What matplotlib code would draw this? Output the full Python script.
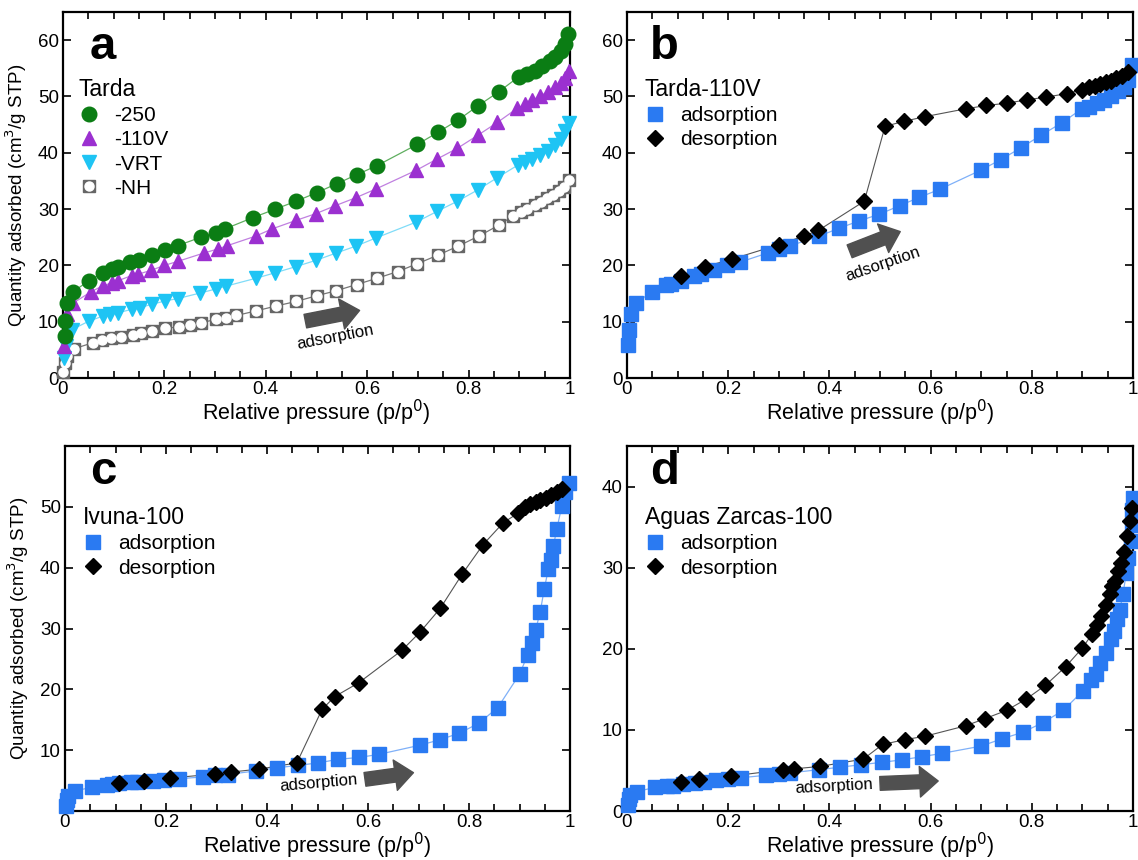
import numpy as np
import matplotlib
matplotlib.use("Agg")
import matplotlib.pyplot as plt
from matplotlib.legend_handler import HandlerTuple
from matplotlib.ticker import MultipleLocator

plt.rcParams["font.family"] = ["Liberation Sans", "DejaVu Sans"]

# ── Panel a: Tarda series (adsorption branch) ─────────────────────
a250_x = [0.004, 0.004, 0.007, 0.02, 0.051, 0.079, 0.097, 0.109, 0.132, 0.149, 0.175, 0.202,
          0.226, 0.272, 0.301, 0.32, 0.375, 0.419, 0.46, 0.50, 0.54, 0.579, 0.619, 0.699,
          0.739, 0.779, 0.818, 0.859, 0.899, 0.915, 0.93, 0.945, 0.96, 0.97, 0.982, 0.99, 0.997]
a250_y = [7.4, 10.1, 13.3, 15.3, 17.3, 18.7, 19.4, 19.8, 20.6, 21.0, 21.9, 22.8,
          23.5, 25.0, 25.8, 26.5, 28.5, 30.0, 31.4, 32.9, 34.5, 36.1, 37.7, 41.5,
          43.6, 45.8, 48.3, 50.8, 53.5, 54.0, 54.6, 55.4, 56.3, 57.0, 58.1, 59.3, 61.1]

a110_x = [0.002, 0.004, 0.007, 0.02, 0.055, 0.079, 0.097, 0.109, 0.136, 0.147, 0.173, 0.2,
          0.226, 0.278, 0.305, 0.324, 0.38, 0.413, 0.46, 0.499, 0.537, 0.577, 0.618, 0.697,
          0.738, 0.778, 0.818, 0.857, 0.896, 0.912, 0.926, 0.941, 0.956, 0.971, 0.982, 0.991, 0.999]
a110_y = [5.7, 8.2, 11.3, 13.3, 15.3, 16.4, 16.9, 17.3, 18.2, 18.4, 19.1, 20.0,
          20.7, 22.2, 22.9, 23.5, 25.2, 26.5, 28.0, 29.2, 30.6, 32.0, 33.6, 36.9,
          38.9, 40.8, 43.1, 45.4, 47.9, 48.6, 49.3, 50.1, 50.8, 51.7, 52.4, 53.3, 54.6]

avrt_x = [0.002, 0.006, 0.018, 0.051, 0.079, 0.092, 0.109, 0.136, 0.151, 0.176, 0.202, 0.226,
          0.271, 0.301, 0.321, 0.38, 0.419, 0.46, 0.499, 0.539, 0.577, 0.618, 0.697, 0.738,
          0.778, 0.818, 0.857, 0.897, 0.912, 0.926, 0.941, 0.956, 0.971, 0.982, 0.991, 0.999]
avrt_y = [3.6, 5.7, 8.6, 10.1, 11.0, 11.3, 11.6, 12.2, 12.5, 13.1, 13.7, 14.1,
          15.1, 15.8, 16.3, 17.7, 18.7, 19.8, 20.9, 22.2, 23.4, 24.9, 27.7, 29.6,
          31.4, 33.4, 35.6, 37.8, 38.3, 38.9, 39.6, 40.3, 41.4, 42.5, 43.8, 45.3]

anh_x = [0.0, 0.004, 0.007, 0.022, 0.06, 0.077, 0.094, 0.114, 0.138, 0.153, 0.176, 0.202,
         0.228, 0.251, 0.272, 0.301, 0.321, 0.342, 0.38, 0.421, 0.46, 0.5, 0.539, 0.579,
         0.619, 0.66, 0.699, 0.739, 0.779, 0.82, 0.859, 0.888, 0.903, 0.915, 0.93, 0.943,
         0.954, 0.967, 0.978, 0.989, 0.999]
anh_y = [1.0, 2.7, 3.9, 5.2, 6.3, 6.7, 7.1, 7.3, 7.7, 8.0, 8.3, 8.8,
         9.1, 9.5, 9.8, 10.4, 10.7, 11.1, 11.9, 12.8, 13.6, 14.6, 15.5, 16.6,
         17.7, 18.9, 20.3, 21.8, 23.4, 25.2, 27.1, 28.8, 29.5, 30.1, 30.7, 31.2,
         31.9, 32.5, 33.2, 34.0, 35.2]

# ── Panel b: Tarda-110V ───────────────────────────────────────────
b_ads_x = [0.001, 0.004, 0.007, 0.018, 0.05, 0.077, 0.087, 0.107, 0.133, 0.146, 0.171, 0.198,
           0.224, 0.278, 0.301, 0.323, 0.38, 0.419, 0.459, 0.499, 0.539, 0.578, 0.618, 0.699,
           0.739, 0.779, 0.818, 0.859, 0.899, 0.913, 0.928, 0.942, 0.957, 0.971, 0.982, 0.991, 0.999]
b_ads_y = [5.9, 8.5, 11.3, 13.4, 15.3, 16.5, 16.7, 17.2, 18.2, 18.5, 19.1, 20.0,
           20.6, 22.2, 22.9, 23.5, 25.2, 26.6, 27.9, 29.1, 30.6, 32.1, 33.5, 36.9,
           38.8, 40.9, 43.1, 45.3, 47.8, 48.2, 48.8, 49.4, 50.0, 50.9, 51.6, 52.9, 55.6]
b_des_x = [0.991, 0.978, 0.967, 0.957, 0.946, 0.935, 0.924, 0.913, 0.899, 0.869, 0.829, 0.79,
           0.75, 0.71, 0.669, 0.588, 0.548, 0.51, 0.469, 0.378, 0.349, 0.301, 0.207, 0.155, 0.107]
b_des_y = [54.4, 53.6, 53.2, 52.8, 52.5, 52.2, 51.9, 51.6, 51.2, 50.5, 49.9, 49.4,
           48.8, 48.4, 47.8, 46.4, 45.6, 44.7, 31.4, 26.2, 25.2, 23.7, 21.1, 19.8, 18.2]

# ── Panel c: Ivuna-100 ────────────────────────────────────────────
c_ads_x = [0.002, 0.004, 0.006, 0.02, 0.053, 0.083, 0.094, 0.107, 0.13, 0.143, 0.174, 0.196,
           0.225, 0.273, 0.298, 0.322, 0.379, 0.42, 0.461, 0.501, 0.541, 0.582, 0.621, 0.702,
           0.742, 0.781, 0.819, 0.857, 0.901, 0.916, 0.925, 0.932, 0.941, 0.949, 0.957, 0.962,
           0.967, 0.974, 0.984, 0.991, 0.999]
c_ads_y = [0.9, 1.8, 2.5, 3.3, 3.9, 4.3, 4.4, 4.6, 4.7, 4.8, 4.9, 5.1,
           5.3, 5.6, 5.9, 6.0, 6.6, 7.1, 7.5, 7.9, 8.5, 8.8, 9.3, 10.8,
           11.7, 12.8, 14.4, 17.0, 22.6, 25.7, 27.6, 29.8, 32.7, 36.5, 39.7, 41.3,
           43.5, 46.4, 50.2, 52.4, 54.0]
c_des_x = [0.985, 0.974, 0.963, 0.952, 0.941, 0.932, 0.921, 0.911, 0.898, 0.868, 0.828, 0.787,
           0.743, 0.703, 0.667, 0.582, 0.534, 0.509, 0.459, 0.385, 0.329, 0.298, 0.207, 0.156, 0.106]
c_des_y = [53.0, 52.4, 51.9, 51.5, 51.2, 50.8, 50.4, 49.9, 49.0, 47.4, 43.8, 39.0,
           33.3, 29.4, 26.4, 21.1, 18.8, 16.7, 7.9, 6.9, 6.4, 6.1, 5.4, 5.0, 4.6]

# ── Panel d: Aguas Zarcas-100 ─────────────────────────────────────
d_ads_x = [0.002, 0.004, 0.006, 0.019, 0.055, 0.08, 0.091, 0.111, 0.135, 0.152, 0.175, 0.2,
           0.225, 0.274, 0.3, 0.322, 0.38, 0.421, 0.462, 0.503, 0.543, 0.583, 0.622, 0.7,
           0.741, 0.782, 0.822, 0.862, 0.901, 0.917, 0.926, 0.935, 0.946, 0.956, 0.963, 0.969,
           0.974, 0.98, 0.987, 0.991, 0.996, 0.998, 0.999, 1.0]
d_ads_y = [0.8, 1.5, 2.0, 2.4, 2.9, 3.1, 3.1, 3.3, 3.5, 3.6, 3.8, 3.9,
           4.1, 4.4, 4.6, 4.7, 5.1, 5.4, 5.7, 6.0, 6.3, 6.7, 7.1, 8.0,
           8.9, 9.7, 10.9, 12.4, 14.8, 16.1, 16.9, 18.2, 19.5, 21.2, 22.2, 23.7,
           24.8, 26.7, 29.4, 31.2, 33.3, 35.3, 37.1, 38.6]
d_des_x = [0.999, 0.994, 0.988, 0.983, 0.976, 0.971, 0.964, 0.958, 0.955, 0.947, 0.937, 0.928,
           0.919, 0.9, 0.867, 0.827, 0.789, 0.75, 0.708, 0.669, 0.588, 0.549, 0.505, 0.467,
           0.382, 0.331, 0.309, 0.206, 0.142, 0.106]
d_des_y = [37.3, 35.7, 33.9, 31.9, 30.6, 29.6, 28.4, 27.8, 26.8, 25.4, 24.1, 22.9,
           21.8, 20.1, 17.8, 15.5, 13.8, 12.4, 11.4, 10.5, 9.2, 8.8, 8.2, 6.4,
           5.5, 5.2, 5.1, 4.3, 3.9, 3.6]

BLUE = "#2a7af2"
BLUE_LINE = "#7fb0f8"
GREEN = "#0b7d14"
PURPLE = "#9b30d0"
CYAN = "#1ec4f4"
ARROW = "#505050"

XLABEL = "Relative pressure (p/p$^0$)"
YLABEL = "Quantity adsorbed (cm$^3$/g STP)"

fig = plt.figure(figsize=(11.38, 8.6), dpi=100)
W, H = 1138, 860


def add_ax(l, r, t, b):
    return fig.add_axes([l / W, 1 - b / H, (r - l) / W, (b - t) / H])


def style_ax(ax, ylim, yticks):
    ax.set_xlim(0, 1)
    ax.set_ylim(*ylim)
    ax.set_xticks([0, 0.2, 0.4, 0.6, 0.8, 1.0])
    ax.set_xticklabels(["0", "0.2", "0.4", "0.6", "0.8", "1"])
    ax.xaxis.set_minor_locator(MultipleLocator(0.05))
    ax.set_yticks(yticks)
    ax.tick_params(which="both", direction="in", top=True, right=True,
                   labelsize=13.5, width=1.2, pad=3)
    ax.tick_params(axis="x", pad=2)
    ax.tick_params(which="major", length=6)
    ax.tick_params(which="minor", length=5)
    for s in ax.spines.values():
        s.set_linewidth(1.6)
    ax.set_xlabel(XLABEL, fontsize=15.5, labelpad=0)


def iso_panel(ax, ads_x, ads_y, des_x, des_y):
    ax.plot(ads_x, ads_y, "-", color=BLUE_LINE, lw=0.9, zorder=2)
    ax.plot(des_x, des_y, "-", color="#555555", lw=0.8, zorder=2)
    h1, = ax.plot(ads_x, ads_y, "s", color=BLUE, ms=9.5, mec=BLUE, ls="none",
                  zorder=3, clip_on=False)
    h2, = ax.plot(des_x, des_y, "D", color="black", ms=8, ls="none",
                  zorder=4, clip_on=False)
    return h1, h2


def add_legend(ax, handles, labels, title, anchor, **kw):
    leg = ax.legend(handles, labels, title=title, loc="upper left",
                    bbox_to_anchor=anchor, frameon=False, fontsize=15,
                    title_fontsize=16.5, alignment="left", handlelength=1.0,
                    handletextpad=0.7, labelspacing=0.25, borderpad=0,
                    borderaxespad=0, **kw)
    return leg


def arrow(ax, start, end, text, tpos, rot):
    ax.annotate("", xy=end, xytext=start,
                arrowprops=dict(arrowstyle="simple,head_length=0.6,head_width=1.0,tail_width=0.45",
                                color=ARROW, mutation_scale=22, shrinkA=0, shrinkB=0))
    ax.text(tpos[0], tpos[1], text, rotation=rot, fontsize=12, ha="center",
            va="center", rotation_mode="anchor")


# ── Panel a ───────────────────────────────────────────────────────
ax = add_ax(63, 570, 12, 378)
style_ax(ax, (0, 65), [0, 10, 20, 30, 40, 50, 60])
ax.plot(a250_x, a250_y, "-", color="#5fae5f", lw=0.9, zorder=2)
ax.plot(a110_x, a110_y, "-", color="#c080e0", lw=0.9, zorder=2)
ax.plot(avrt_x, avrt_y, "-", color="#80dcf8", lw=0.9, zorder=2)
ax.plot(anh_x, anh_y, "-", color="#777777", lw=0.9, zorder=2)
h_nh1, = ax.plot(anh_x, anh_y, "s", color="#666666", ms=9, ls="none", zorder=3, clip_on=False)
h_nh2, = ax.plot(anh_x, anh_y, "o", color="white", ms=6.5, ls="none", zorder=3.1, clip_on=False)
h_vrt, = ax.plot(avrt_x, avrt_y, "v", color=CYAN, ms=10.5, ls="none", zorder=4, clip_on=False)
h_110, = ax.plot(a110_x, a110_y, "^", color=PURPLE, ms=10.5, ls="none", zorder=5, clip_on=False)
h_250, = ax.plot(a250_x, a250_y, "o", color=GREEN, ms=10.5, ls="none", zorder=6, clip_on=False)
ax.set_ylabel(YLABEL, fontsize=13.5, labelpad=6)
ax.text(0.052, 0.905, "a", transform=ax.transAxes, fontsize=34, fontweight="bold",
        va="center", ha="left")
add_legend(ax, [h_250, h_110, h_vrt, (h_nh1, h_nh2)], ["-250", "-110V", "-VRT", "-NH"],
           "Tarda", (0.03, 0.82), handler_map={tuple: HandlerTuple(ndivide=1, pad=0)})
arrow(ax, (0.478, 10.1), (0.585, 12.0), "adsorption", (0.537, 7.2), 11)

# ── Panel b ───────────────────────────────────────────────────────
ax = add_ax(627, 1133, 12, 378)
style_ax(ax, (0, 65), [0, 10, 20, 30, 40, 50, 60])
hb = iso_panel(ax, b_ads_x, b_ads_y, b_des_x, b_des_y)
ax.text(0.045, 0.905, "b", transform=ax.transAxes, fontsize=34, fontweight="bold",
        va="center", ha="left")
add_legend(ax, hb, ["adsorption", "desorption"], "Tarda-110V", (0.035, 0.82))
arrow(ax, (0.44, 22.5), (0.54, 26.0), "adsorption", (0.505, 20.2), 19)

# ── Panel c ───────────────────────────────────────────────────────
ax = add_ax(65, 570, 446, 811)
style_ax(ax, (0, 60), [10, 20, 30, 40, 50])
hc = iso_panel(ax, c_ads_x, c_ads_y, c_des_x, c_des_y)
ax.set_ylabel(YLABEL, fontsize=13.5, labelpad=6)
ax.text(0.05, 0.93, "c", transform=ax.transAxes, fontsize=34, fontweight="bold",
        va="center", ha="left")
add_legend(ax, hc, ["adsorption", "desorption"], "Ivuna-100", (0.035, 0.835))
arrow(ax, (0.594, 5.2), (0.69, 6.3), "adsorption", (0.503, 4.6), 5)

# ── Panel d ───────────────────────────────────────────────────────
ax = add_ax(627, 1133, 446, 811)
style_ax(ax, (0, 45), [0, 10, 20, 30, 40])
hd = iso_panel(ax, d_ads_x, d_ads_y, d_des_x, d_des_y)
ax.text(0.045, 0.93, "d", transform=ax.transAxes, fontsize=34, fontweight="bold",
        va="center", ha="left")
add_legend(ax, hd, ["adsorption", "desorption"], "Aguas Zarcas-100", (0.035, 0.835))
arrow(ax, (0.5, 3.4), (0.615, 3.7), "adsorption", (0.408, 3.0), 3)

fig.savefig("out.png", dpi=100)
